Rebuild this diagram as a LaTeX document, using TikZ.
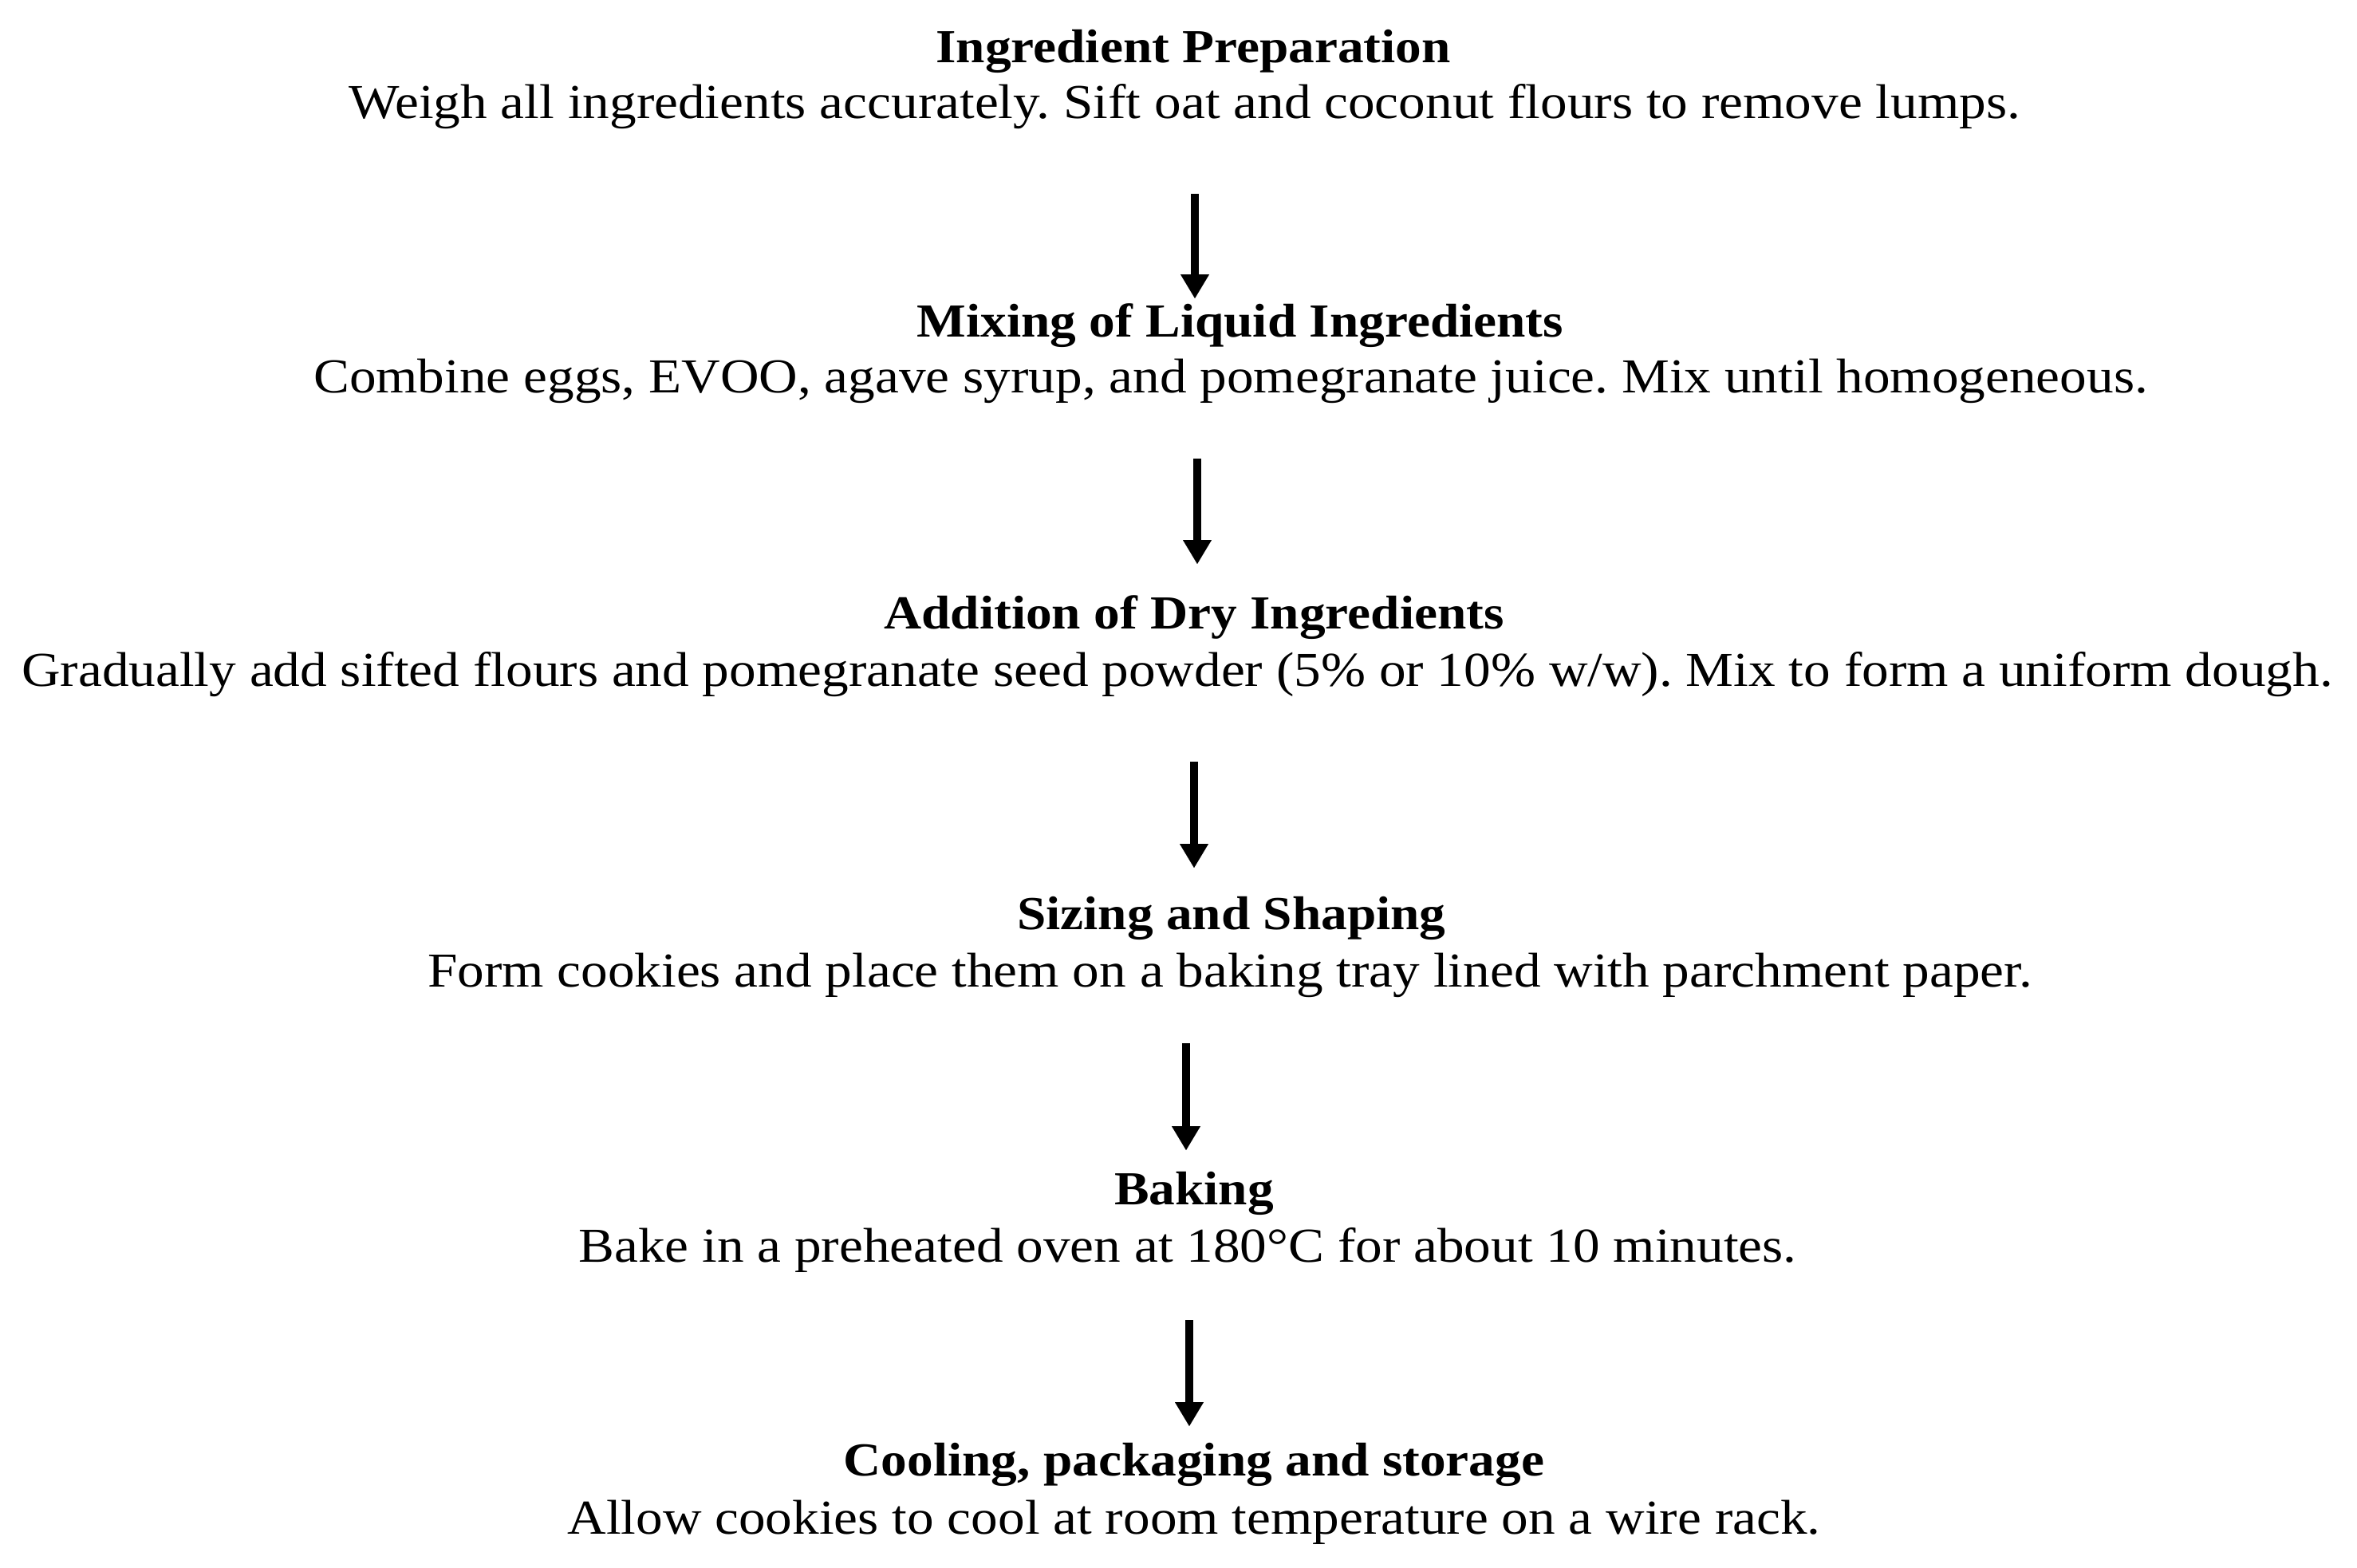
\documentclass[tikz,border=0pt]{standalone}
\usepackage{fontspec}
\setmainfont{Liberation Serif}[FakeStretch=1.1]
\usetikzlibrary{arrows.meta}
\frenchspacing
\begin{document}
\begin{tikzpicture}[
  steptitle/.style={anchor=base, inner sep=0pt, font=\fontsize{16.9}{20}\selectfont\bfseries},
  stepbody/.style={anchor=base, inner sep=0pt, font=\fontsize{17.4}{20}\selectfont},
  flow/.style={line width=1.05mm, -{Triangle[width=3.6mm,length=3.0mm,line width=0.01pt]}}
]
\useasboundingbox[fill=white] (0,0) rectangle (29.55,-19.65);

\node[steptitle] (t1) at (14.96,-0.78) {Ingredient Preparation};
\node[stepbody]  (b1) at (14.85,-1.48) {Weigh all ingredients accurately. Sift oat and coconut flours to remove lumps.};

\node[steptitle] (t2) at (15.55,-4.22) {Mixing of Liquid Ingredients};
\node[stepbody]  (b2) at (15.43,-4.92) {Combine eggs, EVOO, agave syrup, and pomegranate juice. Mix until homogeneous.};

\node[steptitle] (t3) at (14.97,-7.88) {Addition of Dry Ingredients};
\node[stepbody]  (b3) at (14.76,-8.60) {Gradually add sifted flours and pomegranate seed powder (5\% or 10\% w/w). Mix to form a uniform dough.};

\node[steptitle] (t4) at (15.44,-11.65) {Sizing and Shaping};
\node[stepbody]  (b4) at (15.42,-12.37) {Form cookies and place them on a baking tray lined with parchment paper.};

\node[steptitle] (t5) at (14.97,-15.10) {Baking};
\node[stepbody]  (b5) at (14.89,-15.82) {Bake in a preheated oven at 180°C for about 10 minutes.};

\node[steptitle] (t6) at (14.97,-18.50) {Cooling, packaging and storage};
\node[stepbody]  (b6) at (14.97,-19.23) {Allow cookies to cool at room temperature on a wire rack.};

\coordinate (a1s) at (14.98,-2.43);  \coordinate (a1e) at (14.98,-3.74);
\coordinate (a2s) at (15.01,-5.75);  \coordinate (a2e) at (15.01,-7.07);
\coordinate (a3s) at (14.97,-9.55);  \coordinate (a3e) at (14.97,-10.88);
\coordinate (a4s) at (14.87,-13.08); \coordinate (a4e) at (14.87,-14.42);
\coordinate (a5s) at (14.91,-16.55); \coordinate (a5e) at (14.91,-17.88);

\draw[flow] (a1s) -- (a1e);
\draw[flow] (a2s) -- (a2e);
\draw[flow] (a3s) -- (a3e);
\draw[flow] (a4s) -- (a4e);
\draw[flow] (a5s) -- (a5e);
\end{tikzpicture}
\end{document}
